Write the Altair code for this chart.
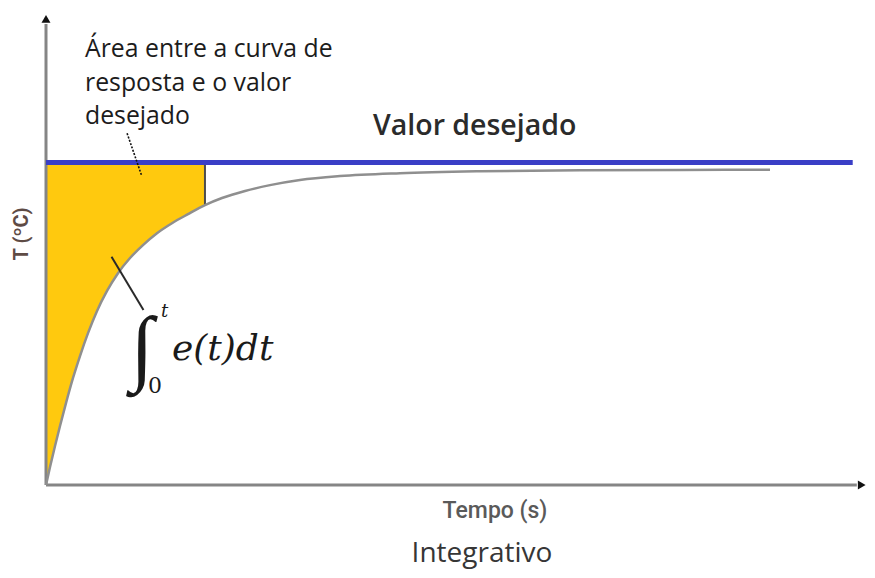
import altair as alt
import pandas as pd

# ---- data ----
time_s = [0, 0.49, 1.10, 1.71, 2.44, 3.30, 4.15, 5.13, 6.23, 7.45, 8.79, 10.26, 11.84,
          13.55, 15.38, 17.34, 19.41, 21.49, 24.30, 27.35, 31.01, 35.90, 43.22, 52.99,
          65.20, 77.41, 88.40]
temp_c = [0, 5.6, 12.1, 18.3, 25.4, 33.2, 40.0, 47.1, 54.0, 60.2, 65.7, 70.4, 74.4,
          78.1, 81.2, 84.0, 86.8, 89.0, 91.2, 93.0, 94.6, 95.8, 96.7, 97.3,
          97.6, 97.7, 97.8]
setpoint = 100.0
setpoint_end = 98.5
t_integral = 19.41
x_axis_end = 99.0
y_axis_end = 143.0
arrow_up = [0.0, 144.6]
arrow_right = [99.6, 0.0]
pointer_dotted = [9.9, 109.1, 11.7, 95.8]
pointer_solid = [8.0, 70.8, 11.9, 54.3]

note_lines = ["Área entre a curva de", "resposta e o valor", "desejado"]
setpoint_label = "Valor desejado"
x_title = "Tempo (s)"
y_title = "T (ºC)"
chart_title = "Integrativo"

# ---- scales ----
xs = alt.Scale(domain=[0, 100], nice=False, zero=False)
ys = alt.Scale(domain=[0, 146.7], nice=False, zero=False)
X = lambda f: alt.X(f, type="quantitative", scale=xs, axis=None)
Y = lambda f: alt.Y(f, type="quantitative", scale=ys, axis=None)

curve = pd.DataFrame({"t": time_s, "T": temp_c})
fill = curve[curve["t"] <= t_integral].copy()
fill["sp"] = setpoint

area = alt.Chart(fill).mark_area(color="#FFC90E", opacity=1, interpolate="monotone").encode(
    x=X("t"), y=Y("T"), y2="sp:Q")

boundary = alt.Chart(pd.DataFrame({"t": [t_integral], "T": [fill["T"].iloc[-1]], "sp": [setpoint]})) \
    .mark_rule(color="#4d4d4d", strokeWidth=2).encode(x=X("t"), y=Y("T"), y2="sp:Q")

yaxis = alt.Chart(pd.DataFrame({"t": [0], "T": [0], "T2": [y_axis_end]})) \
    .mark_rule(color="#858585", strokeWidth=3).encode(x=X("t"), y=Y("T"), y2="T2:Q")
xaxis = alt.Chart(pd.DataFrame({"t": [0], "t2": [x_axis_end], "T": [0]})) \
    .mark_rule(color="#858585", strokeWidth=3).encode(x=X("t"), x2="t2:Q", y=Y("T"))

up = alt.Chart(pd.DataFrame({"t": [arrow_up[0]], "T": [arrow_up[1]]})) \
    .mark_point(shape="triangle-up", filled=True, color="#111111", size=80, opacity=1) \
    .encode(x=X("t"), y=Y("T"))
right = alt.Chart(pd.DataFrame({"t": [arrow_right[0]], "T": [arrow_right[1]]})) \
    .mark_point(shape="triangle-right", filled=True, color="#111111", size=80, opacity=1) \
    .encode(x=X("t"), y=Y("T"))

line = alt.Chart(curve).mark_line(color="#8f8f8f", strokeWidth=2.5, interpolate="monotone").encode(
    x=X("t"), y=Y("T"))

sp = alt.Chart(pd.DataFrame({"t": [0], "t2": [setpoint_end], "T": [setpoint]})) \
    .mark_rule(color="#3a3ec6", strokeWidth=5).encode(x=X("t"), x2="t2:Q", y=Y("T"))

p1 = alt.Chart(pd.DataFrame({"t": [pointer_dotted[0]], "T": [pointer_dotted[1]],
                             "t2": [pointer_dotted[2]], "T2": [pointer_dotted[3]]})) \
    .mark_rule(color="#111111", strokeWidth=1.6, strokeDash=[2, 1.5]) \
    .encode(x=X("t"), y=Y("T"), x2="t2:Q", y2="T2:Q")
p2 = alt.Chart(pd.DataFrame({"t": [pointer_solid[0]], "T": [pointer_solid[1]],
                             "t2": [pointer_solid[2]], "T2": [pointer_solid[3]]})) \
    .mark_rule(color="#2a2a2a", strokeWidth=2) \
    .encode(x=X("t"), y=Y("T"), x2="t2:Q", y2="T2:Q")

one = pd.DataFrame({"a": [0]})

def txt(text, x, y, **kw):
    return alt.Chart(one).mark_text(text=text, **kw).encode(x=alt.value(x), y=alt.value(y))

note = txt(note_lines, 39, 45, align="left", baseline="alphabetic", font="Open Sans",
           fontSize=24.8, lineHeight=33.5, color="#1c1c1c")
sp_label = txt(setpoint_label, 327, 123, align="left", baseline="alphabetic", font="Open Sans",
               fontSize=28.5, fontWeight=600, color="#2b2b2b")
xt = txt(x_title, 449, 506, align="center", baseline="alphabetic", font="Roboto",
         fontSize=23, fontWeight=500, color="#5a5a5a")
yt = txt(y_title, -24, 222, align="center", baseline="middle", font="Roboto",
         fontSize=20, fontWeight="bold", color="#5e4b45", angle=270)
title = txt(chart_title, 436, 550, align="center", baseline="alphabetic", font="Open Sans",
            fontSize=28, fontWeight=500, color="#363636")

integ = txt("∫", 96, 338, align="center", baseline="middle", font="Liberation Serif",
            fontSize=84, color="#1a1a1a")
sup = txt("t", 115, 305, align="left", baseline="alphabetic", font="DejaVu Serif",
          fontStyle="italic", fontSize=18, color="#1a1a1a")
sub = txt("0", 109, 381, align="center", baseline="alphabetic", font="DejaVu Serif",
          fontSize=22, color="#1a1a1a")
expr = txt("e(t)dt", 126, 348, align="left", baseline="alphabetic", font="DejaVu Serif",
           fontStyle="italic", fontSize=36, color="#1a1a1a")

chart = alt.layer(
    area, boundary, yaxis, xaxis, up, right, line, sp, p1, p2,
    note, sp_label, xt, yt, title, integ, sup, sub, expr
).properties(
    width=819, height=473,
    autosize=alt.AutoSizeParams(type="none"),
    padding={"left": 38, "top": 4, "right": 2, "bottom": 85},
    background="white",
).configure_view(stroke=None)

chart.save("out.html", embed_options={"renderer": "svg", "actions": False})
